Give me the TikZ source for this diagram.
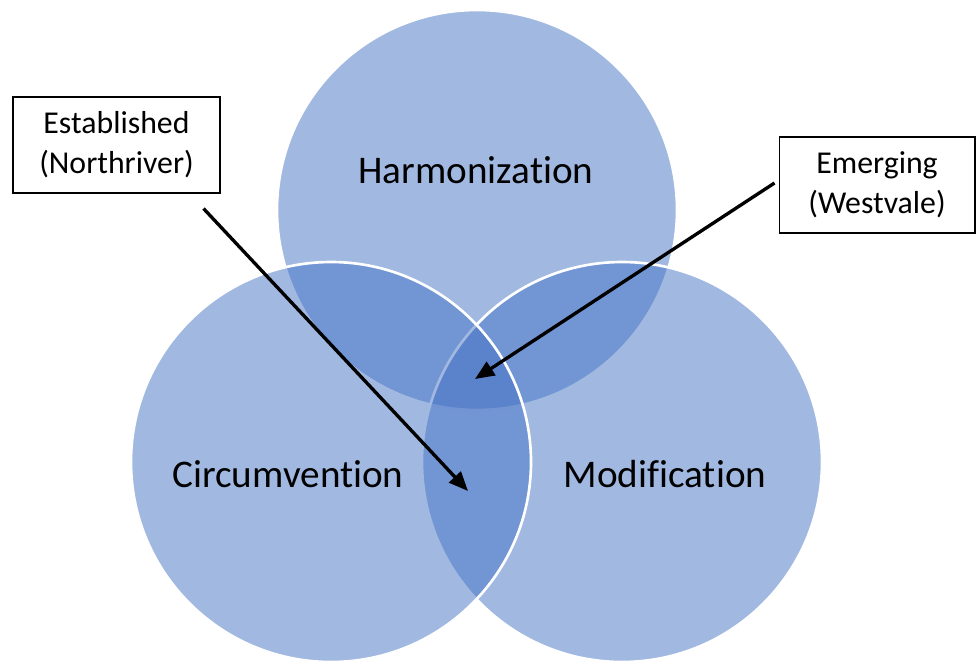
\documentclass[tikz,border=0pt]{standalone}
\usepackage{fontspec}
\setmainfont{Carlito}[Ligatures=NoCommon]
\usetikzlibrary{calc}
\usetikzlibrary{arrows.meta}
\definecolor{vcol}{RGB}{68,114,196}
\newcommand{\venn}{circle[radius=200]}

\begin{document}
\begin{tikzpicture}[x=0.02cm, y=-0.02cm]
\tikzstyle{cstyle}=[fill=vcol, fill opacity=0.5, draw=white, line width=1.5pt]
\tikzstyle{lstyle}=[font=\fontsize{22.3}{26}\selectfont, text=black, inner sep=0pt]
\tikzstyle{bstyle}=[draw=black, line width=0.6pt, fill=white, align=center, minimum height=1.92cm, inner sep=0pt, font=\fontsize{18.1}{22.6}\selectfont]
\tikzstyle{arrow}=[line width=1.9pt, black, -{Triangle[length=11pt, width=9pt]}]

\useasboundingbox (0,0) rectangle (976,660);
\clip (0,0) rectangle (976,660);

\coordinate (H) at (477,210);
\coordinate (C) at (331,462);
\coordinate (M) at (622,462);

% the three sets
\draw[cstyle] (H) \venn;
\draw[cstyle] (M) \venn;
\draw[cstyle] (C) \venn;

\node[lstyle] (harm) at ($(H)+(-1,-40)$) {Harmonization};
\node[lstyle] (circ) at ($(C)+(-43,12)$) {Circumvention};
\node[lstyle] (modi) at ($(M)+(43,12)$) {Modification};

% call-out boxes
\node[bstyle, minimum width=4.14cm] (est) at (116.5,145) {Established\\(Northriver)};
\node[bstyle, minimum width=3.92cm] (emg) at (877,185) {Emerging\\(Westvale)};

\coordinate (estfrom) at ($(est.south east)+(-17,15)$);
\coordinate (estto) at (468,491);
\coordinate (emgfrom) at ($(emg.west)+(-4,-2)$);
\coordinate (emgto) at (475,379);

\draw[arrow] (estfrom) -- (estto);
\draw[arrow] (emgfrom) -- (emgto);
\end{tikzpicture}
\end{document}
